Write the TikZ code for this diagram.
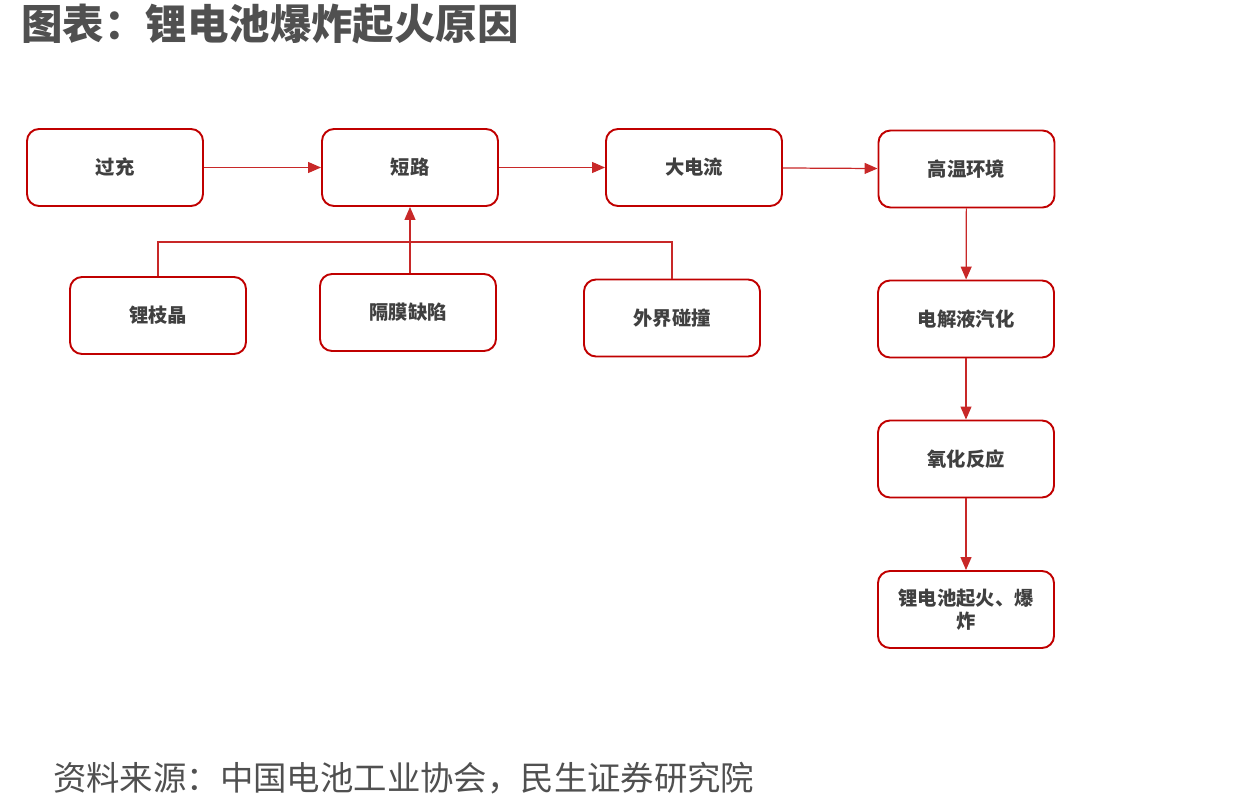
\documentclass[tikz,border=0pt]{standalone}
\usepackage{fontspec}
\setmainfont{Noto Sans CJK SC}
\usepackage{tikz}
\usetikzlibrary{arrows.meta,positioning,calc}
\definecolor{cred}{RGB}{192,0,0}
\definecolor{clink}{RGB}{200,40,40}
\definecolor{ctext}{RGB}{64,64,64}
\definecolor{ctitle}{RGB}{80,80,80}
\begin{document}
\begin{tikzpicture}[x=0.2mm,y=-0.2mm,
    causebox/.style={draw=cred, line width=1.1pt, rounded corners=2.4mm,
      minimum width=35.2mm, minimum height=15.4mm, align=center,
      font=\fontsize{11pt}{13pt}\selectfont\bfseries, text=ctext},
    flow/.style={draw=clink, line width=0.7pt, -{Triangle[length=2.6mm,width=2.2mm]}},
    link/.style={draw=clink, line width=0.7pt}]
  \useasboundingbox (0,0) rectangle (1245,811);
  % title and source
  \node[anchor=west, text=ctitle, font=\fontsize{23.6pt}{26pt}\selectfont\bfseries] (title) at (15,24) {图表：锂电池爆炸起火原因};
  \node[anchor=west, text=ctitle, font=\fontsize{19pt}{22pt}\selectfont] (source) at (47,778) {资料来源：中国电池工业协会，民生证券研究院};
  % top row
  \node[causebox] (guochong) at (115,167.5) {过充};
  \node[causebox] (duanlu) at (410,167.5) {短路};
  \node[causebox] (dadianliu) at (694,167.5) {大电流};
  \node[causebox] (gaowen) at (966.5,169) {高温环境};
  % causes of short circuit
  \node[causebox] (lizhijing) at (158,315.5) {锂枝晶};
  \node[causebox] (gemo) at (408,312.5) {隔膜缺陷};
  \node[causebox] (pengzhuang) at (672,318) {外界碰撞};
  % right column
  \node[causebox] (qihua) at (966,319) {电解液汽化};
  \node[causebox] (yanghua) at (966,459) {氧化反应};
  \node[causebox] (baozha) at (966,609.5) {锂电池起火、爆\\炸};
  \coordinate (bus) at (410,242);
  % connectors
  \draw[flow] (guochong) -- (duanlu);
  \draw[flow] (duanlu) -- (dadianliu);
  \draw[flow] (dadianliu) -- (gaowen);
  \draw[flow] (gaowen) -- (qihua);
  \draw[flow] (qihua) -- (yanghua);
  \draw[flow] (yanghua) -- (baozha);
  \draw[link] (lizhijing.north) |- (bus) -| (pengzhuang.north);
  \draw[flow] (duanlu.south |- gemo.north) -- (duanlu.south);
\end{tikzpicture}
\end{document}
